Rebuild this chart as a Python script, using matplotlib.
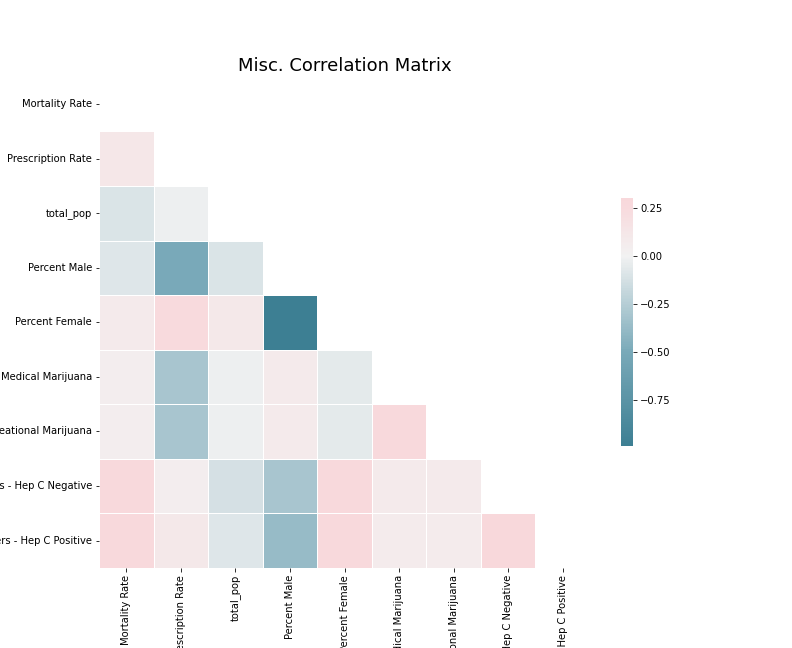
import numpy as np
import pandas as pd
import matplotlib
matplotlib.use("Agg")
import matplotlib.pyplot as plt
from matplotlib.colors import LinearSegmentedColormap
import seaborn as sns

labels = ["Mortality Rate", "Prescription Rate", "total_pop", "Percent Male",
          "Percent Female", "Medical Marijuana", "Recreational Marijuana",
          "Opioid Prescribers - Hep C Negative", "Opioid Prescribers - Hep C Positive"]

# lower-triangle values, row by row
lower = [
    [],
    [0.12],
    [-0.10, -0.02],
    [-0.08, -0.50, -0.10],
    [0.08, 0.25, 0.10, -0.99],
    [0.05, -0.30, -0.02, 0.08, -0.06],
    [0.05, -0.30, -0.02, 0.08, -0.06, 0.28],
    [0.28, 0.05, -0.12, -0.30, 0.28, 0.08, 0.08],
    [0.28, 0.10, -0.08, -0.38, 0.28, 0.07, 0.07, 0.30],
]

n = len(labels)
m = np.eye(n)
for i, row in enumerate(lower):
    for j, v in enumerate(row):
        m[i, j] = v
        m[j, i] = v
corr = pd.DataFrame(m, index=labels, columns=labels)
mask = np.triu(np.ones_like(m, dtype=bool))

cmap = LinearSegmentedColormap.from_list("div", [
    (0.0, (61/255, 127/255, 147/255)),
    (0.25, (122/255, 170/255, 185/255)),
    (0.5, (242/255, 242/255, 242/255)),
    (0.63, (248/255, 218/255, 221/255)),
    (1.0, (241/255, 181/255, 187/255)),
])

fig, ax = plt.subplots(figsize=(11, 9), dpi=72)
sns.heatmap(corr, mask=mask, cmap=cmap, vmax=.3, center=0, square=True,
            linewidths=.5, cbar_kws={"shrink": .5,
                                     "ticks": [-0.75, -0.5, -0.25, 0, 0.25]}, ax=ax)
ax.set_title("Misc. Correlation Matrix", fontsize=18)
fig.subplots_adjust(top=0.885, bottom=0.12)
fig.savefig("out.png", dpi=72)
